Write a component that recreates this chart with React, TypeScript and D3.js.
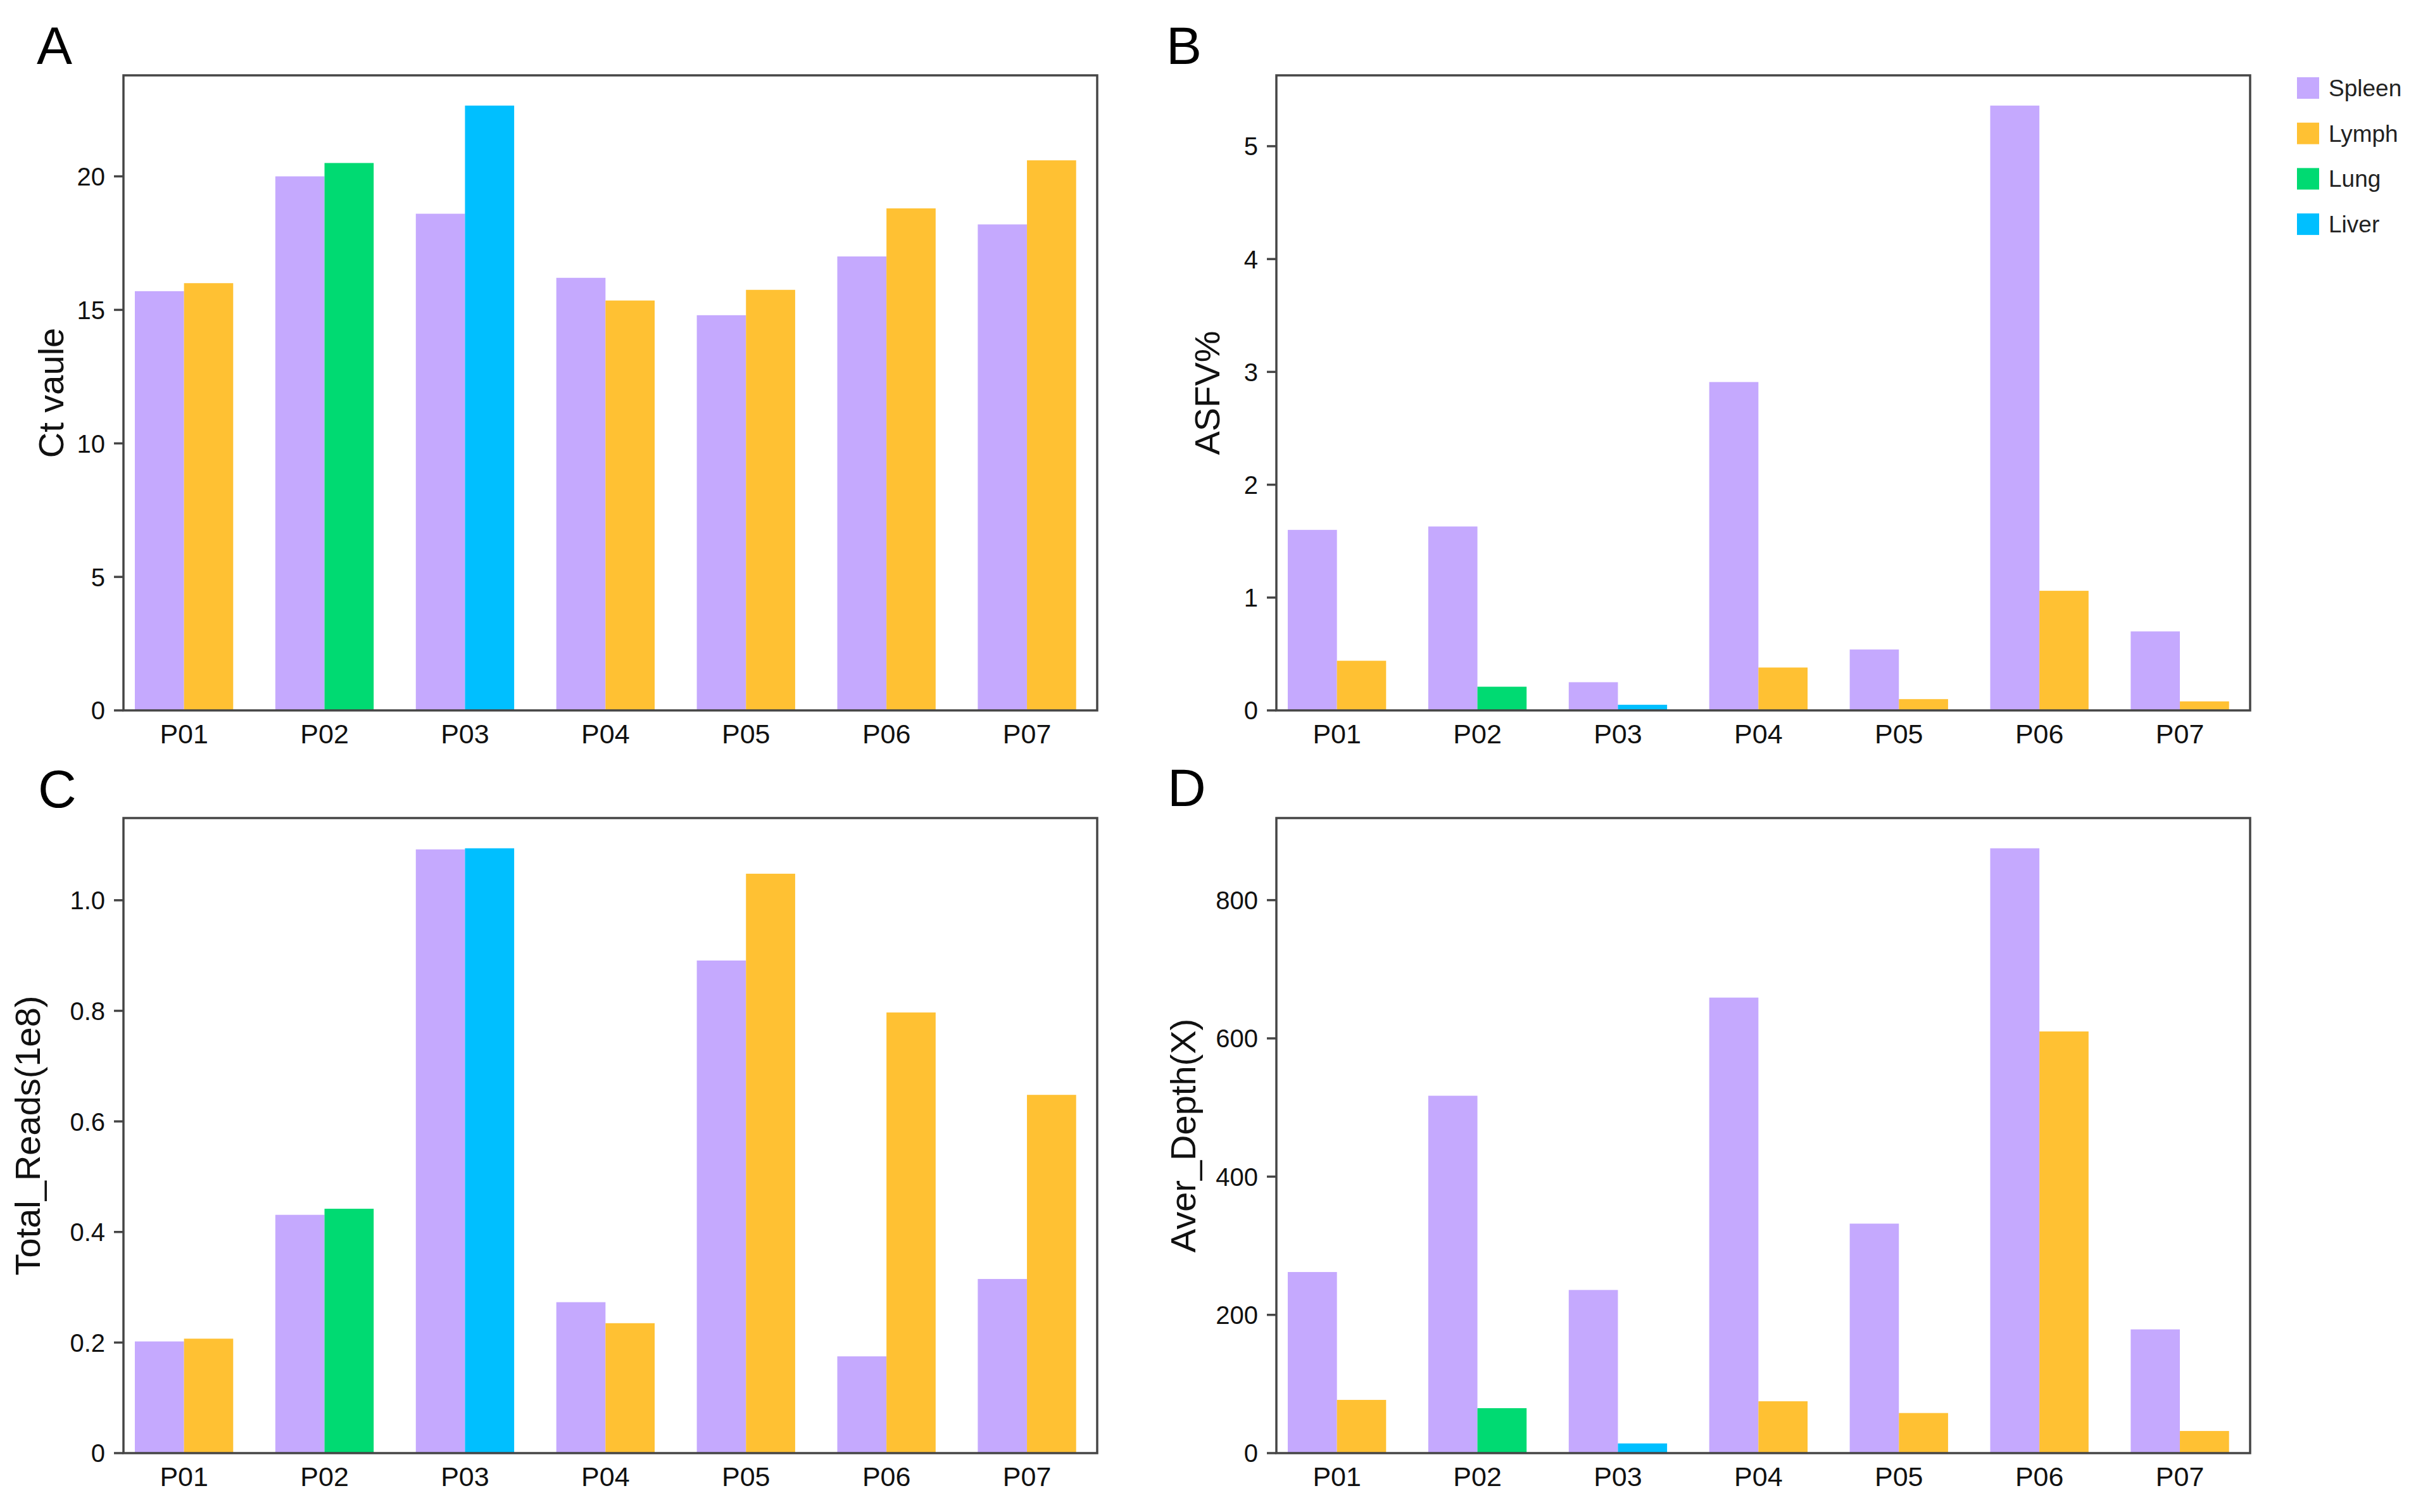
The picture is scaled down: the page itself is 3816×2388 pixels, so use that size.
import * as d3 from "d3";

// samples and the tissue of the second bar in each pair
const samples = ["P01", "P02", "P03", "P04", "P05", "P06", "P07"];
const secondTissue = ["Lymph", "Lung", "Liver", "Lymph", "Lymph", "Lymph", "Lymph"];
const tissues = ["Spleen", "Lymph", "Lung", "Liver"];

const ctSpleen = [15.7, 20.0, 18.6, 16.2, 14.8, 17.0, 18.2];
const ctSecond = [16.0, 20.5, 22.65, 15.35, 15.75, 18.8, 20.6];
const asfvSpleen = [1.6, 1.63, 0.25, 2.91, 0.54, 5.36, 0.7];
const asfvSecond = [0.44, 0.21, 0.05, 0.38, 0.1, 1.06, 0.08];
const readsSpleen = [0.202, 0.431, 1.092, 0.273, 0.891, 0.175, 0.315];
const readsSecond = [0.207, 0.442, 1.094, 0.235, 1.048, 0.797, 0.648];
const depthSpleen = [262, 517, 236, 659, 332, 875, 179];
const depthSecond = [77, 65, 14, 75, 58, 610, 32];

const ctTicks = [0, 5, 10, 15, 20];
const asfvTicks = [0, 1, 2, 3, 4, 5];
const readsTicks = [0, 0.2, 0.4, 0.6, 0.8, 1.0];
const depthTicks = [0, 200, 400, 600, 800];

const colors: Record<string, string> = {
  Spleen: "#c5a9fe",
  Lymph: "#ffc133",
  Lung: "#00da72",
  Liver: "#00bfff",
};

const W = 3816;
const H = 2388;
const FONT = "'Liberation Sans', Arial, sans-serif";
const BAR_W = 0.35;
const AXIS = "#454545";

type PanelProps = {
  letter: string;
  letterX: number;
  letterY: number;
  x0: number;
  y0: number;
  label: string;
  labelX: number;
  spleen: number[];
  second: number[];
  ticks: number[];
  fmt: (v: number) => string;
};

function Panel({ letter, letterX, letterY, x0, y0, label, labelX, spleen, second, ticks, fmt }: PanelProps) {
  const pw = 1538;
  const ph = 1003;
  const x = d3.scaleLinear().domain([-0.431, 6.5]).range([x0, x0 + pw]);
  const yMax = (d3.max([...spleen, ...second]) ?? 1) * 1.05;
  const y = d3.scaleLinear().domain([0, yMax]).range([y0 + ph, y0]);

  return (
    <g>
      <text x={letterX} y={letterY} fontSize={84} fontFamily={FONT} fill="#000">
        {letter}
      </text>
      {samples.map((s, i) => (
        <g key={s}>
          <rect
            x={x(i - BAR_W)}
            y={y(spleen[i])}
            width={x(BAR_W) - x(0)}
            height={y(0) - y(spleen[i])}
            fill={colors.Spleen}
          />
          <rect
            x={x(i)}
            y={y(second[i])}
            width={x(BAR_W) - x(0)}
            height={y(0) - y(second[i])}
            fill={colors[secondTissue[i]]}
          />
          <text
            x={x(i)}
            y={y0 + ph + 52}
            textAnchor="middle"
            fontSize={43}
            fontFamily={FONT}
            fill="#111"
          >
            {s}
          </text>
        </g>
      ))}
      {ticks.map((t) => (
        <g key={t}>
          <line x1={x0 - 15} x2={x0} y1={y(t)} y2={y(t)} stroke={AXIS} strokeWidth={3.5} />
          <text
            x={x0 - 29}
            y={y(t)}
            dy="0.36em"
            textAnchor="end"
            fontSize={40}
            fontFamily={FONT}
            fill="#111"
          >
            {fmt(t)}
          </text>
        </g>
      ))}
      <rect x={x0} y={y0} width={pw} height={ph} fill="none" stroke={AXIS} strokeWidth={3.5} />
      <text
        transform={`translate(${labelX},${y0 + ph / 2}) rotate(-90)`}
        textAnchor="middle"
        fontSize={56}
        fontFamily={FONT}
        fill="#111"
      >
        {label}
      </text>
    </g>
  );
}

export default function App() {
  return (
    <svg
      width={W}
      height={H}
      viewBox={`0 0 ${W} ${H}`}
      style={{ position: "absolute", left: 0, top: 0, background: "#fff" }}
    >
      <rect width={W} height={H} fill="#fff" />
      <Panel
        letter="A"
        letterX={58}
        letterY={101}
        x0={195}
        y0={119}
        label="Ct vaule"
        labelX={100}
        spleen={ctSpleen}
        second={ctSecond}
        ticks={ctTicks}
        fmt={(v) => String(v)}
      />
      <Panel
        letter="B"
        letterX={1842}
        letterY={101}
        x0={2016}
        y0={119}
        label="ASFV%"
        labelX={1926}
        spleen={asfvSpleen}
        second={asfvSecond}
        ticks={asfvTicks}
        fmt={(v) => String(v)}
      />
      <Panel
        letter="C"
        letterX={60}
        letterY={1275}
        x0={195}
        y0={1292}
        label="Total_Reads(1e8)"
        labelX={63}
        spleen={readsSpleen}
        second={readsSecond}
        ticks={readsTicks}
        fmt={(v) => (v === 0 ? "0" : d3.format(".1f")(v))}
      />
      <Panel
        letter="D"
        letterX={1844}
        letterY={1273}
        x0={2016}
        y0={1292}
        label="Aver_Depth(X)"
        labelX={1888}
        spleen={depthSpleen}
        second={depthSecond}
        ticks={depthTicks}
        fmt={(v) => String(v)}
      />
      {tissues.map((t, i) => (
        <g key={t} transform={`translate(3628,${122 + i * 71.7})`}>
          <rect width={35} height={34} fill={colors[t]} />
          <text x={50} y={30} fontSize={37} fontFamily={FONT} fill="#222">
            {t}
          </text>
        </g>
      ))}
    </svg>
  );
}
